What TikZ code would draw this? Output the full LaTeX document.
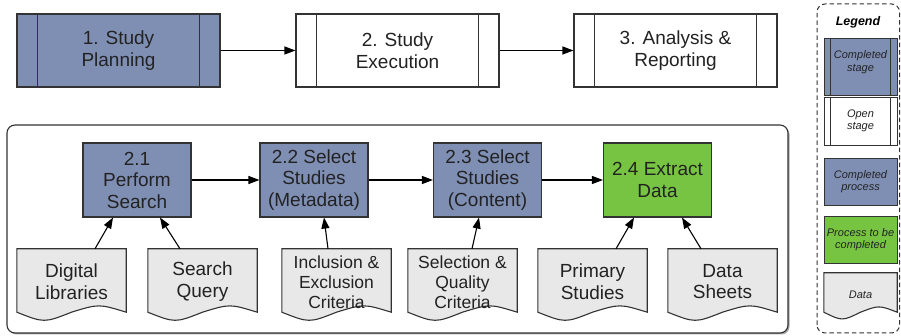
\documentclass[tikz,border=0pt]{standalone}
\usepackage{fontspec}
\setmainfont{Liberation Sans}
\usetikzlibrary{arrows.meta,calc,backgrounds}

\definecolor{doneblue}{HTML}{7F8FB4}
\definecolor{todogreen}{HTML}{77C443}
\definecolor{datagray}{HTML}{E8E8E8}
\definecolor{inkgray}{HTML}{222222}
\definecolor{edgegray}{HTML}{333333}

\tikzset{
  x=1pt, y=1pt,
  every node/.style={text=inkgray, align=center, inner sep=0pt, font=\fontsize{19}{21.5}\selectfont},
  stagebox/.style={draw=edgegray, line width=1.1pt, minimum width=203pt, minimum height=73pt},
  procbox/.style={draw=edgegray, line width=1.1pt, fill=doneblue, minimum width=108pt, minimum height=74pt},
  docbox/.style={minimum width=109pt, minimum height=69pt},
  legstage/.style={draw=edgegray, line width=0.9pt, minimum width=73pt},
  legproc/.style={draw=edgegray, line width=0.9pt, minimum width=73pt, minimum height=47pt},
  legtext/.style={font=\fontsize{11}{12.5}\selectfont\itshape},
  flow/.style={draw=black, line width=1.1pt, -{Triangle[length=11pt,width=8pt]}},
}

% stage box with a side bar at each end
\newcommand{\stagebars}[2]{%
  \draw[edgegray, line width=1.1pt] ([xshift=#2]#1.north west) -- ([xshift=#2]#1.south west);
  \draw[edgegray, line width=1.1pt] ([xshift=-#2]#1.north east) -- ([xshift=-#2]#1.south east);
}
% document outline with a wavy lower edge
\newcommand{\docpath}[2]{%
  \path[fill=datagray, draw=edgegray, line width=1.1pt]
    (#1.north west) -- (#1.north east) -- ([yshift=#2]#1.south east)
    .. controls ($(#1.south west)!0.75!(#1.south east)+(0,2.4*#2)$) .. ($(#1.south west)!0.5!(#1.south east)+(0,#2)$)
    .. controls ($(#1.south west)!0.25!(#1.south east)+(0,-0.8*#2)$) .. ([yshift=#2]#1.south west) -- cycle;
}

\begin{document}
\begin{tikzpicture}
\useasboundingbox (0,0) rectangle (901,336);

% ---- stages ----
\node[stagebox, fill=doneblue] (s1) at (118.5,285.5) {1. Study\\Planning};
\node[stagebox, fill=white] (s2) at (397.5,285.5) {2. Study\\Execution};
\node[stagebox, fill=white] (s3) at (675.5,285.5) {3. Analysis \&\\Reporting};
\stagebars{s1}{21pt}
\stagebars{s2}{21pt}
\stagebars{s3}{21pt}
\draw[flow] (s1) -- (s2);
\draw[flow] (s2) -- (s3);

% ---- execution detail frame ----
\fill[gray!70, rounded corners=8pt] (8.5,1.5) rectangle (789.5,209.5);
\draw[edgegray, line width=1.1pt, fill=white, rounded corners=8pt] (7,3) rectangle (788,211);

% ---- processes ----
\node[procbox] (p1) at (137,156) {2.1\\Perform\\Search};
\node[procbox] (p2) at (314,156) {2.2 Select\\Studies\\(Metadata)};
\node[procbox] (p3) at (487.5,156) {2.3 Select\\Studies\\(Content)};
\node[procbox, fill=todogreen] (p4) at (657.5,156) {2.4 Extract\\Data};
\draw[flow] (p1) -- (p2);
\draw[flow] (p2) -- (p3);
\draw[flow] (p3) -- (p4);

% ---- data inputs ----
\node[docbox] (d1) at (71.5,52.5) {};
\node[docbox] (d2) at (202.5,52.5) {};
\node[docbox] (d3) at (336.5,52.5) {};
\node[docbox] (d4) at (462.5,52.5) {};
\node[docbox] (d5) at (592.5,52.5) {};
\node[docbox] (d6) at (722.5,52.5) {};
\foreach \d in {d1,d2,d3,d4,d5,d6} {\docpath{\d}{6pt}}
\node at ([yshift=2pt]d1.center) {Digital\\Libraries};
\node at ([yshift=2pt]d2.center) {Search\\Query};
\node[font=\fontsize{17.5}{20}\selectfont] at ([yshift=1.5pt]d3.center) {Inclusion \&\\Exclusion\\Criteria};
\node[font=\fontsize{17.5}{20}\selectfont] at ([yshift=1.5pt]d4.center) {Selection \&\\Quality\\Criteria};
\node at ([yshift=2pt]d5.center) {Primary\\Studies};
\node at ([yshift=2pt]d6.center) {Data\\Sheets};

\draw[flow] ([xshift=23.5pt]d1.north) -- ([xshift=-24pt]p1.south);
\draw[flow] ([xshift=-22.5pt]d2.north) -- ([xshift=23pt]p1.south);
\draw[flow] ([xshift=-8.5pt]d3.north) -- ([xshift=10pt]p2.south);
\draw[flow] ([xshift=9.5pt]d4.north) -- ([xshift=-8.5pt]p3.south);
\draw[flow] ([xshift=23.5pt]d5.north) -- ([xshift=-23.5pt]p4.south);
\draw[flow] ([xshift=-21.5pt]d6.north) -- ([xshift=24.5pt]p4.south);

% ---- legend ----
\draw[edgegray, line width=1pt, dash pattern=on 4.5pt off 3pt, rounded corners=8pt] (817,3) rectangle (899.5,332);
\node[font=\fontsize{12.5}{14}\selectfont\bfseries\itshape, text=black] (lt) at (858,314) {Legend};
\node[legstage, fill=doneblue, minimum height=57pt] (l1) at (860.5,269.5) {};
\node[legtext] at ([yshift=4.5pt]l1.center) {Completed\\stage};
\node[legstage, fill=white, minimum height=48pt, legtext] (l2) at (860.5,215) {Open\\stage};
\stagebars{l1}{7pt}
\stagebars{l2}{7pt}
\node[legproc, fill=doneblue, legtext] (l3) at (860.5,154.5) {Completed\\process};
\node[legproc, fill=todogreen, legtext] (l4) at (860.5,96.5) {Process to be\\completed};
\node[minimum width=73pt, minimum height=44pt] (l5) at (860.5,41) {};
\docpath{l5}{5pt}
\node[legtext] at (l5.center) {Data};
\end{tikzpicture}
\end{document}
